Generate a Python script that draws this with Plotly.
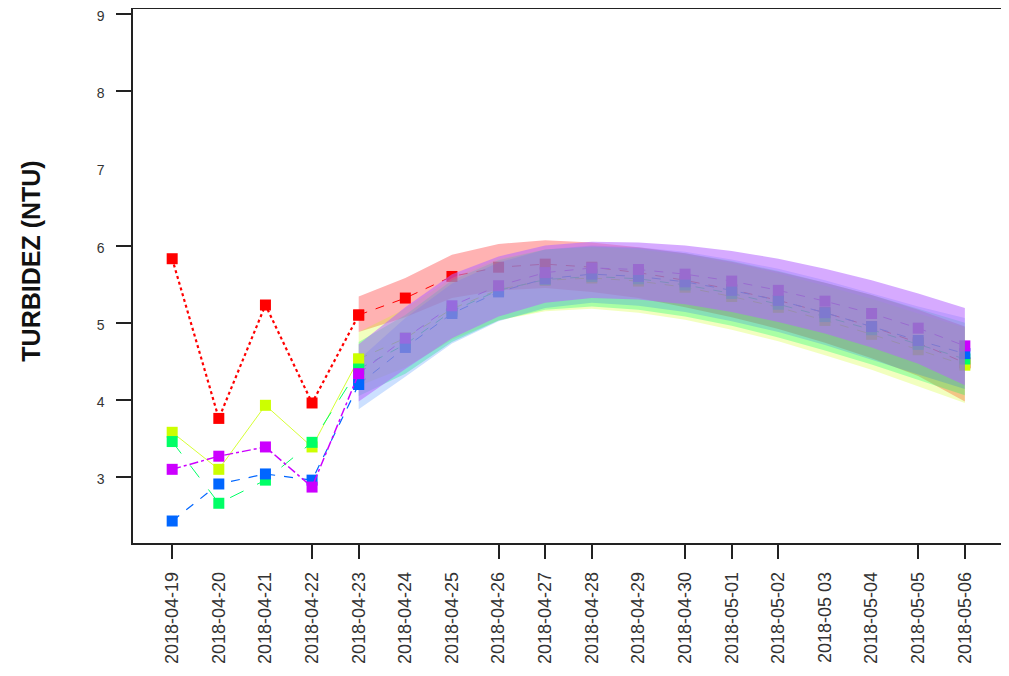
import plotly.graph_objects as go

# ---------------- data ----------------
tick_dates = ["2018-04-19", "2018-04-20", "2018-04-21", "2018-04-22", "2018-04-23",
              "2018-04-24", "2018-04-25", "2018-04-26", "2018-04-27", "2018-04-28",
              "2018-04-29", "2018-04-30", "2018-05-01", "2018-05-02", "2018-05-03",
              "2018-05-04", "2018-05-05", "2018-05-06"]
tick_text = ["2018-04-19", "2018-04-20", "2018-04-21", "2018-04-22", "2018-04-23",
             "2018-04-24", "2018-04-25", "2018-04-26", "2018-04-27", "2018-04-28",
             "2018-04-29", "2018-04-30", "2018-05-01", "2018-05-02", "2018-05 03",
             "2018-05-04", "2018-05-05", "2018-05-06"]
tick_marked = ["2018-04-19", "2018-04-22", "2018-04-23", "2018-04-26", "2018-04-27",
               "2018-04-28", "2018-04-30", "2018-05-01", "2018-05-02", "2018-05-05",
               "2018-05-06"]

obs_dates = ["2018-04-19", "2018-04-20", "2018-04-21", "2018-04-22", "2018-04-23"]
fc_dates = ["2018-04-23", "2018-04-24", "2018-04-25", "2018-04-26", "2018-04-27",
            "2018-04-28", "2018-04-29", "2018-04-30", "2018-05-01", "2018-05-02",
            "2018-05-03", "2018-05-04", "2018-05-05", "2018-05-06"]

# observed
obs_red = [5.83, 3.76, 5.23, 3.96, 5.10]
obs_yellow = [3.58, 3.10, 3.93, 3.39, 4.53]
obs_green = [3.46, 2.66, 2.96, 3.45, 4.40]
obs_blue = [2.43, 2.91, 3.04, 2.96, 4.20]
obs_purple = [3.10, 3.27, 3.39, 2.87, 4.34]

# forecasts (mean, lower, upper)
fc_red = [5.10, 5.32, 5.60, 5.72, 5.76, 5.72, 5.65, 5.55, 5.43, 5.29, 5.13, 4.95, 4.74, 4.48]
lo_red = [4.88, 5.07, 5.32, 5.42, 5.45, 5.40, 5.32, 5.20, 5.07, 4.92, 4.74, 4.54, 4.31, 3.98]
up_red = [5.34, 5.58, 5.88, 6.02, 6.07, 6.04, 5.98, 5.90, 5.79, 5.66, 5.52, 5.36, 5.17, 4.95]

fc_yellow = [4.53, 4.80, 5.18, 5.43, 5.55, 5.58, 5.54, 5.46, 5.34, 5.20, 5.03, 4.85, 4.65, 4.45]
lo_yellow = [4.18, 4.42, 4.78, 5.03, 5.15, 5.18, 5.13, 5.04, 4.91, 4.76, 4.58, 4.39, 4.18, 3.96]
up_yellow = [4.88, 5.18, 5.58, 5.83, 5.95, 5.98, 5.95, 5.88, 5.77, 5.64, 5.48, 5.31, 5.12, 4.94]

fc_green = [4.40, 4.72, 5.15, 5.42, 5.56, 5.60, 5.57, 5.49, 5.38, 5.24, 5.08, 4.91, 4.72, 4.53]
lo_green = [4.05, 4.34, 4.75, 5.03, 5.17, 5.21, 5.17, 5.08, 4.96, 4.81, 4.64, 4.46, 4.26, 4.06]
up_green = [4.75, 5.10, 5.55, 5.81, 5.95, 5.99, 5.97, 5.90, 5.80, 5.67, 5.52, 5.36, 5.18, 5.00]

fc_blue = [4.20, 4.68, 5.12, 5.40, 5.57, 5.63, 5.60, 5.53, 5.42, 5.29, 5.13, 4.95, 4.77, 4.60]
lo_blue = [3.88, 4.30, 4.73, 5.02, 5.19, 5.26, 5.22, 5.14, 5.02, 4.88, 4.71, 4.52, 4.33, 4.14]
up_blue = [4.52, 5.06, 5.51, 5.78, 5.95, 6.00, 5.98, 5.92, 5.82, 5.70, 5.55, 5.38, 5.21, 5.06]

fc_purple = [4.34, 4.80, 5.22, 5.48, 5.65, 5.71, 5.69, 5.63, 5.54, 5.42, 5.28, 5.12, 4.93, 4.70]
lo_purple = [3.98, 4.40, 4.80, 5.08, 5.26, 5.32, 5.30, 5.24, 5.14, 5.01, 4.86, 4.68, 4.47, 4.19]
up_purple = [4.72, 5.20, 5.63, 5.86, 6.00, 6.05, 6.04, 6.00, 5.93, 5.83, 5.70, 5.55, 5.38, 5.19]

y_ticks = [3, 4, 5, 6, 7, 8, 9]
y_ticks_marked = [3, 4, 5, 6, 8, 9]

series = [
    dict(color="#FF0000", fill="rgba(255,0,0,0.30)", obs=obs_red, fc=fc_red, lo=lo_red, up=up_red, dash="dot", w=2.2),
    dict(color="#CCFF00", fill="rgba(204,255,0,0.25)", obs=obs_yellow, fc=fc_yellow, lo=lo_yellow, up=up_yellow, dash="solid", w=0.8),
    dict(color="#00FF66", fill="rgba(0,255,102,0.30)", obs=obs_green, fc=fc_green, lo=lo_green, up=up_green, dash="longdash", w=1.0),
    dict(color="#0066FF", fill="rgba(0,102,255,0.20)", obs=obs_blue, fc=fc_blue, lo=lo_blue, up=up_blue, dash="dash", w=1.2),
    dict(color="#CC00FF", fill="rgba(180,100,255,0.55)", obs=obs_purple, fc=fc_purple, lo=lo_purple, up=up_purple, dash="dashdot", w=1.5),
]

fig = go.Figure()

# forecast lines/markers (drawn beneath the bands)
for s in series:
    fig.add_trace(go.Scatter(
        x=fc_dates, y=s["fc"], mode="lines+markers",
        line=dict(color=s["color"], width=1, dash="dash"),
        marker=dict(symbol="square", size=11, color=s["color"]),
        showlegend=False))

# forecast bands
for s in series:
    fig.add_trace(go.Scatter(
        x=fc_dates + fc_dates[::-1], y=s["up"] + s["lo"][::-1],
        fill="toself", fillcolor=s["fill"], line=dict(width=0),
        mode="lines", hoverinfo="skip", showlegend=False))

# observed lines & markers on top
for s in series:
    fig.add_trace(go.Scatter(
        x=obs_dates, y=s["obs"], mode="lines+markers",
        line=dict(color=s["color"], width=s["w"], dash=s["dash"]),
        marker=dict(symbol="square", size=11, color=s["color"]),
        showlegend=False))

font_family = "Liberation Sans, Arial, sans-serif"

fig.update_layout(
    width=1001, height=668,
    margin=dict(l=125, r=4, t=1, b=133, pad=0),
    paper_bgcolor="white", plot_bgcolor="white",
    showlegend=False,
    xaxis=dict(
        type="date",
        range=["2018-04-18 03:50", "2018-05-06 20:40"],
        tickmode="array", tickvals=tick_dates, ticktext=tick_text,
        tickangle=-90, tickfont=dict(family=font_family, size=18, color="#333333"),
        ticks="", ticklabelstandoff=20,
        minor=dict(tickmode="array", tickvals=tick_marked, ticks="outside", ticklen=14,
                   tickwidth=1.5, tickcolor="#222222", showgrid=False),
        showline=True, linecolor="#222222", linewidth=1.5, mirror=True,
        showgrid=False, zeroline=False, automargin=False,
    ),
    yaxis=dict(
        range=[2.145, 9.067],
        tickmode="array", tickvals=y_ticks, ticktext=[str(v) for v in y_ticks],
        tickfont=dict(family=font_family, size=14, color="#333333"),
        ticks="", ticklabelstandoff=24, ticklabeloverflow="allow", ticklabelshift=2,
        minor=dict(tickmode="array", tickvals=y_ticks_marked, ticks="outside", ticklen=15,
                   tickwidth=1.5, tickcolor="#222222", showgrid=False),
        showline=True, linecolor="#222222", linewidth=1.5, mirror=True,
        showgrid=False, zeroline=False, automargin=False,
    ),
    annotations=[dict(
        text="<b>TURBIDEZ (NTU)</b>", textangle=-90,
        xref="paper", yref="paper", x=-0.118, y=0.527,
        xanchor="center", yanchor="middle", showarrow=False,
        font=dict(family=font_family, size=25, color="#111111"),
    )],
)

fig.write_html("out.html")
